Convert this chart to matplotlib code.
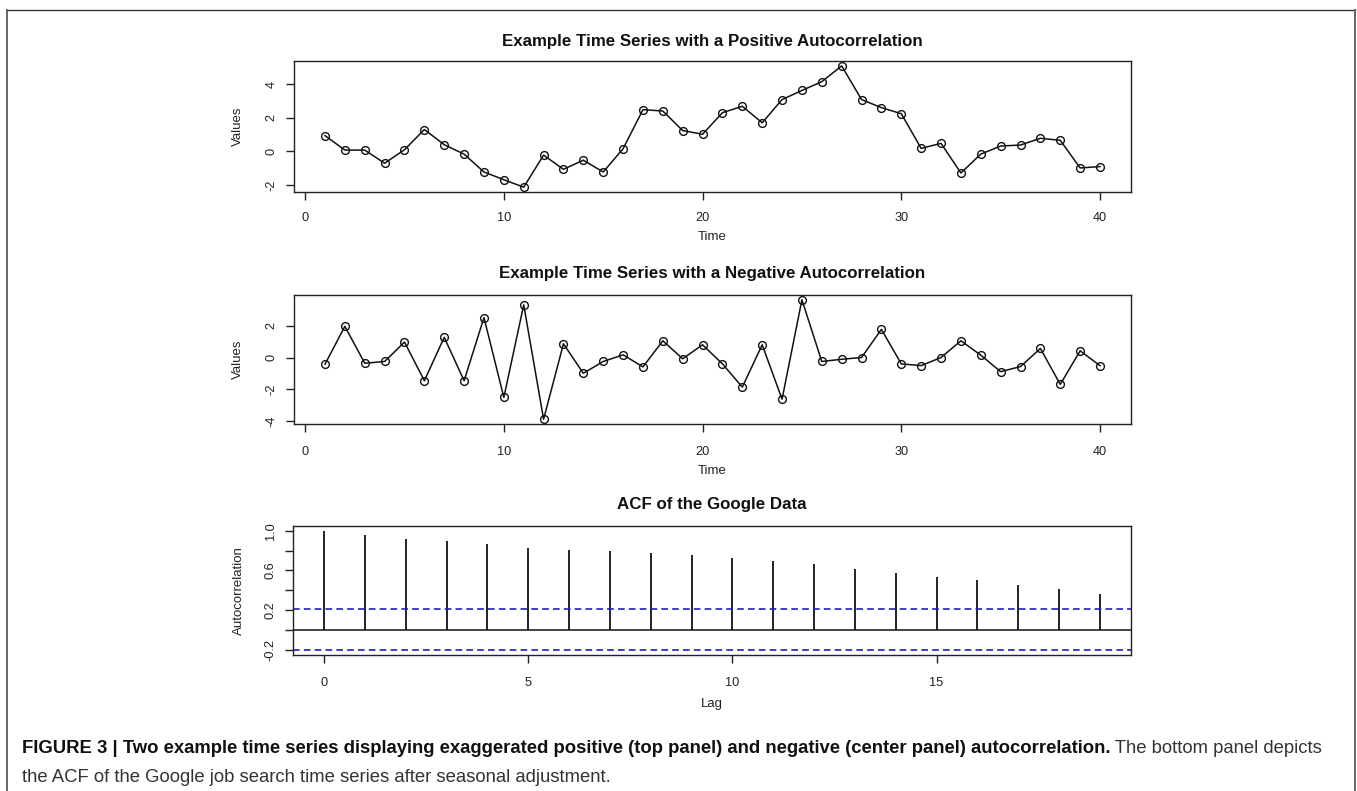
import numpy as np
import matplotlib
matplotlib.use("Agg")
import matplotlib.pyplot as plt
from matplotlib.lines import Line2D

# ---------------- data ----------------
time = list(range(1, 41))
pos_values = [0.94, 0.08, 0.08, -0.70, 0.10, 1.30, 0.40, -0.16, -1.22, -1.68,
              -2.12, -0.22, -1.06, -0.52, -1.22, 0.16, 2.48, 2.40, 1.24, 1.02,
              2.30, 2.68, 1.70, 3.08, 3.62, 4.14, 5.08, 3.08, 2.60, 2.24,
              0.18, 0.48, -1.28, -0.16, 0.32, 0.38, 0.78, 0.66, -0.98, -0.90]
neg_values = [-0.42, 1.96, -0.36, -0.25, 0.97, -1.46, 1.27, -1.46, 2.51, -2.51,
              3.31, -3.88, 0.86, -0.99, -0.25, 0.17, -0.59, 1.05, -0.08, 0.80,
              -0.40, -1.86, 0.80, -2.62, 3.63, -0.25, -0.11, 0.00, 1.77, -0.40,
              -0.51, 0.00, 1.05, 0.15, -0.89, -0.57, 0.57, -1.69, 0.42, -0.51]
lags = list(range(0, 20))
acf_values = [1.000, 0.957, 0.920, 0.893, 0.868, 0.828, 0.802, 0.792, 0.778, 0.751,
              0.727, 0.691, 0.664, 0.610, 0.573, 0.532, 0.499, 0.455, 0.414, 0.364]
conf_limit = 0.206

titles = ["Example Time Series with a Positive Autocorrelation",
          "Example Time Series with a Negative Autocorrelation",
          "ACF of the Google Data"]
ts_xticks = [0, 10, 20, 30, 40]
pos_yticks = [-2, 0, 2, 4]
neg_yticks = [-4, -2, 0, 2]
acf_xticks = [0, 5, 10, 15]
acf_yticks = [-0.2, 0.0, 0.2, 0.4, 0.6, 0.8, 1.0]
acf_yticklabels = ["-0.2", "", "0.2", "", "0.6", "", "1.0"]

caption_bold = ("FIGURE 3 | Two example time series displaying exaggerated positive "
                "(top panel) and negative (center panel) autocorrelation.")
caption_rest1 = " The bottom panel depicts"
caption_line2 = "the ACF of the Google job search time series after seasonal adjustment."

# ---------------- style ----------------
plt.rcParams['font.family'] = ['Liberation Sans', 'DejaVu Sans']
W, H = 1357, 791
fig = plt.figure(figsize=(W / 100, H / 100), dpi=100)


def fx(x):
    return x / W


def fy(y):
    return 1 - y / H


def make_ax(left, top, right, bottom):
    return fig.add_axes([fx(left), fy(bottom), fx(right) - fx(left), (bottom - top) / H])


TICK_FS = 9.2
TITLE_FS = 12.2
LABEL_FS = 9.5


def style_ax(ax, xpad=8.5):
    for s in ax.spines.values():
        s.set_linewidth(1.0)
        s.set_color('#222222')
    ax.tick_params(direction='out', length=5.8, width=1.0, color='#222222',
                   labelsize=TICK_FS, labelcolor='#222222')
    ax.tick_params(axis='x', pad=xpad)
    ax.tick_params(axis='y', pad=6)
    for lab in ax.get_yticklabels():
        lab.set_rotation(90)
        lab.set_va('center')
        lab.set_ha('right')


def r_limits(vals):
    lo, hi = min(vals), max(vals)
    span = hi - lo
    return lo - 0.04 * span, hi + 0.04 * span


line_kw = dict(color='#111111', lw=1.1, marker='o', ms=5.6,
               mfc='none', mec='#111111', mew=1.0)

# ---- top panel ----
ax1 = make_ax(294, 61, 1131, 192)
ax1.plot(time, pos_values, **line_kw)
ax1.set_xlim(*r_limits(time))
ax1.set_ylim(*r_limits(pos_values))
ax1.set_xticks(ts_xticks)
ax1.set_yticks(pos_yticks)
ax1.set_yticklabels([str(v) for v in pos_yticks])
style_ax(ax1, xpad=8.5)
ax1.set_title(titles[0], fontsize=TITLE_FS, fontweight='bold', pad=10.5, color='#111111')

# ---- middle panel ----
ax2 = make_ax(294, 295, 1131, 424)
ax2.plot(time, neg_values, **line_kw)
ax2.set_xlim(*r_limits(time))
ax2.set_ylim(*r_limits(neg_values))
ax2.set_xticks(ts_xticks)
ax2.set_yticks(neg_yticks)
ax2.set_yticklabels([str(v) for v in neg_yticks])
style_ax(ax2, xpad=10)
ax2.set_title(titles[1], fontsize=TITLE_FS, fontweight='bold', pad=12.5, color='#111111')

# ---- bottom panel (ACF) ----
ax3 = make_ax(293, 526, 1131, 655)
ax3.vlines(lags, 0, acf_values, color='#111111', lw=1.3)
ax3.axhline(0, color='#111111', lw=1.1)
ax3.axhline(conf_limit, color='#2020b0', lw=1.2, ls=(0, (4, 2.5)))
ax3.axhline(-conf_limit, color='#2020b0', lw=1.2, ls=(0, (4, 2.5)))
ax3.set_xlim(*r_limits(lags))
ax3.set_ylim(*r_limits(acf_values + [conf_limit, -conf_limit]))
ax3.set_xticks(acf_xticks)
ax3.set_yticks(acf_yticks)
ax3.set_yticklabels(acf_yticklabels)
style_ax(ax3, xpad=10)
ax3.set_title(titles[2], fontsize=TITLE_FS, fontweight='bold', pad=12, color='#111111')

# ---- axis labels ----
lab_kw = dict(fontsize=LABEL_FS, color='#222222', ha='center', va='center')
fig.text(fx(712), fy(237), "Time", **lab_kw)
fig.text(fx(712), fy(471), "Time", **lab_kw)
fig.text(fx(712), fy(704), "Lag", **lab_kw)
fig.text(fx(238), fy(126.5), "Values", rotation=90, **lab_kw)
fig.text(fx(238), fy(359.5), "Values", rotation=90, **lab_kw)
fig.text(fx(239), fy(590.5), "Autocorrelation", rotation=90, **lab_kw)

# ---- frame ----
frame_kw = dict(transform=fig.transFigure, color='#666666', lw=1.4)
fig.add_artist(Line2D([fx(7), fx(1355)], [fy(10), fy(10)], color='#333333', lw=1.0,
                      transform=fig.transFigure))
fig.add_artist(Line2D([fx(7), fx(7)], [fy(10), fy(792)], **frame_kw))
fig.add_artist(Line2D([fx(1355), fx(1355)], [fy(10), fy(792)], **frame_kw))

# ---- caption (size fitted so that line 1 spans x=22..1328 px) ----
renderer = fig.canvas.get_renderer()
probe_fs = 10.0
pb = fig.text(0, 0, caption_bold, fontsize=probe_fs, fontweight='bold')
pr = fig.text(0, 0, caption_rest1, fontsize=probe_fs)
w_probe = (pb.get_window_extent(renderer=renderer).width
           + pr.get_window_extent(renderer=renderer).width)
pb.remove()
pr.remove()
CAP_FS = probe_fs * (1328 - 22) / w_probe

t1 = fig.text(fx(22), fy(753), caption_bold, fontsize=CAP_FS, fontweight='bold',
              color='#111111', ha='left', va='baseline')
bb = t1.get_window_extent(renderer=renderer)
fig.text(bb.x1 / W, fy(753), caption_rest1, fontsize=CAP_FS, color='#333333',
         ha='left', va='baseline')
fig.text(fx(22), fy(781.5), caption_line2, fontsize=CAP_FS, color='#333333',
         ha='left', va='baseline')

fig.savefig("out.png", dpi=100)
